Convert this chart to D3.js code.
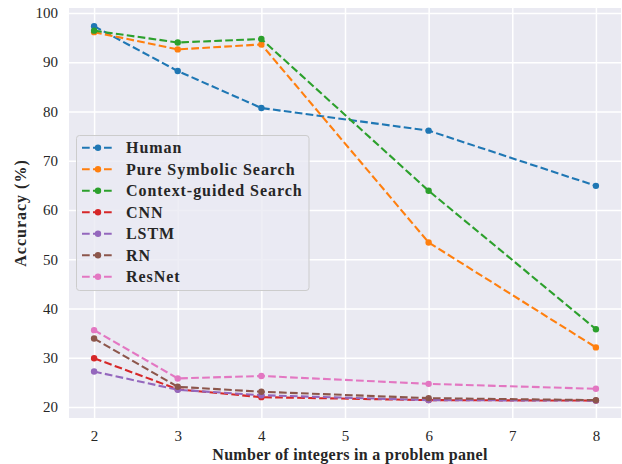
<!DOCTYPE html>
<html><head><meta charset="utf-8">
<script src="https://cdn.jsdelivr.net/npm/d3@7"></script>
<style>body{margin:0;background:#fff}svg{display:block}</style>
</head><body>
<svg id="c" width="622" height="464"></svg>
<script>
const xValues = [2, 3, 4, 6, 8];
const xTicks = [2, 3, 4, 5, 6, 7, 8];
const yTicks = [20, 30, 40, 50, 60, 70, 80, 90, 100];
const seriesNames = ["Human", "Pure Symbolic Search", "Context-guided Search", "CNN", "LSTM", "RN", "ResNet"];
const human = [97.3, 88.2, 80.7, 76.1, 64.9];
const pureSymbolic = [96.1, 92.6, 93.6, 53.4, 32.1];
const contextGuided = [96.4, 94.0, 94.7, 63.9, 35.8];
const cnn = [29.9, 23.6, 22.0, 21.4, 21.3];
const lstm = [27.2, 23.5, 22.4, 21.4, 21.3];
const rn = [33.9, 24.1, 23.1, 21.8, 21.4];
const resnet = [35.6, 25.8, 26.3, 24.7, 23.7];
const seriesValues = [human, pureSymbolic, contextGuided, cnn, lstm, rn, resnet];
const colors = ["#1f77b4", "#ff7f0e", "#2ca02c", "#d62728", "#9467bd", "#8c564b", "#e377c2"];

const svg = d3.select("#c");
const L = 69, R = 621, T = 8, B = 418;
const FONT = "'Liberation Serif', 'DejaVu Serif', serif";
const TXT = "#262626";

const x = d3.scaleLinear().domain([1.7, 8.3]).range([L, R]);
const y = d3.scaleLinear().domain([17.77, 101.0]).range([B, T]);

svg.append("rect").attr("x", L).attr("y", T).attr("width", R - L).attr("height", B - T).attr("fill", "#eaeaf2");

// grid
const gx = svg.append("g").attr("transform", `translate(0,${B})`)
  .call(d3.axisBottom(x).tickValues(xTicks).tickSize(-(B - T)).tickPadding(12).tickFormat(d3.format("d")));
const gy = svg.append("g").attr("transform", `translate(${L},0)`)
  .call(d3.axisLeft(y).tickValues(yTicks).tickSize(-(R - L)).tickPadding(11).tickFormat(d3.format("d")));
[gx, gy].forEach(g => {
  g.select(".domain").remove();
  g.selectAll(".tick line").attr("stroke", "#fff").attr("stroke-width", 1.5);
  g.selectAll(".tick text").attr("fill", TXT).style("font-family", FONT).style("font-size", "15px");
});

const line = d3.line().x((d, i) => x(xValues[i])).y(d => y(d));
seriesValues.forEach((vals, k) => {
  const g = svg.append("g");
  g.append("path").datum(vals).attr("d", line).attr("fill", "none")
    .attr("stroke", colors[k]).attr("stroke-width", 2.1).attr("stroke-dasharray", "7.7,3.3");
  g.selectAll("circle").data(vals).join("circle")
    .attr("cx", (d, i) => x(xValues[i])).attr("cy", d => y(d)).attr("r", 3.2).attr("fill", colors[k]);
});

// axis labels
svg.append("text").attr("x", 350).attr("y", 460).attr("text-anchor", "middle")
  .attr("fill", TXT).style("font-family", FONT).style("font-size", "16px").style("font-weight", "bold")
  .style("letter-spacing", "0.3px")
  .text("Number of integers in a problem panel");
svg.append("text").attr("transform", `translate(26,${(T + B) / 2}) rotate(-90)`).attr("text-anchor", "middle")
  .attr("fill", TXT).style("font-family", FONT).style("font-size", "16px").style("font-weight", "bold")
  .style("letter-spacing", "1px")
  .text("Accuracy (%)");

// legend
const lg = svg.append("g");
lg.append("rect").attr("x", 76.5).attr("y", 135.5).attr("width", 232.5).attr("height", 155).attr("rx", 3)
  .attr("fill", "#eaeaf2").attr("fill-opacity", 0.8).attr("stroke", "#cccccc").attr("stroke-width", 1);
seriesNames.forEach((name, k) => {
  const cy = 147.7 + k * 21.5;
  lg.append("line").attr("x1", 82).attr("x2", 114).attr("y1", cy).attr("y2", cy)
    .attr("stroke", colors[k]).attr("stroke-width", 2.1).attr("stroke-dasharray", "7.7,3.3");
  lg.append("circle").attr("cx", 98).attr("cy", cy).attr("r", 3.2).attr("fill", colors[k]);
  lg.append("text").attr("x", 126).attr("y", cy + 5.5).attr("fill", TXT)
    .style("font-family", FONT).style("font-size", "16px").style("font-weight", "bold")
    .style("letter-spacing", "0.95px").text(name);
});
</script>
</body></html>
